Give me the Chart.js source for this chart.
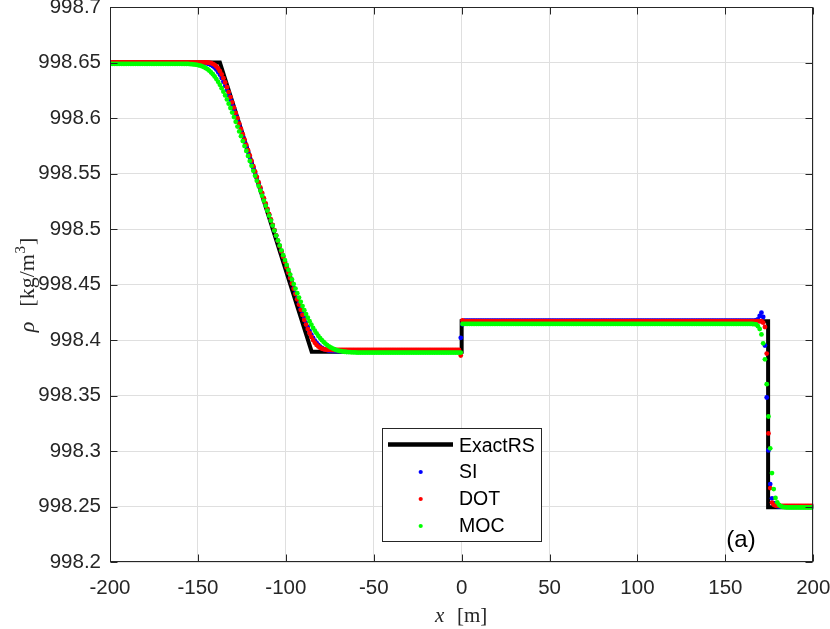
<!DOCTYPE html>
<html>
<head>
<meta charset="utf-8">
<script src="https://cdn.jsdelivr.net/npm/chart.js@4/dist/chart.umd.min.js"></script>
<style>
html,body{margin:0;padding:0;background:#fff;}
canvas{display:block;}
</style>
</head>
<body>
<canvas id="c" width="830" height="629"></canvas>
<script>
// ---------- data ----------
const xTicks = [-200,-150,-100,-50,0,50,100,150,200];
const xTickLabels = ['-200','-150','-100','-50','0','50','100','150','200'];
const yTicks = [998.2,998.25,998.3,998.35,998.4,998.45,998.5,998.55,998.6,998.65,998.7];
const yTickLabels = ['998.2','998.25','998.3','998.35','998.4','998.45','998.5','998.55','998.6','998.65','998.7'];

// exact Riemann solution (piecewise linear)
const exactX = [-200,-137.5,-85.3,0,0,174.3,174.3,200];
const exactY = [998.65,998.65,998.3895,998.3895,998.417,998.417,998.2493,998.2493];

// cell centres of the numerical grid
const xGrid = [
-199.5,-198.5,-197.5,-196.5,-195.5,-194.5,-193.5,-192.5,-191.5,-190.5,
-189.5,-188.5,-187.5,-186.5,-185.5,-184.5,-183.5,-182.5,-181.5,-180.5,
-179.5,-178.5,-177.5,-176.5,-175.5,-174.5,-173.5,-172.5,-171.5,-170.5,
-169.5,-168.5,-167.5,-166.5,-165.5,-164.5,-163.5,-162.5,-161.5,-160.5,
-159.5,-158.5,-157.5,-156.5,-155.5,-154.5,-153.5,-152.5,-151.5,-150.5,
-149.5,-148.5,-147.5,-146.5,-145.5,-144.5,-143.5,-142.5,-141.5,-140.5,
-139.5,-138.5,-137.5,-136.5,-135.5,-134.5,-133.5,-132.5,-131.5,-130.5,
-129.5,-128.5,-127.5,-126.5,-125.5,-124.5,-123.5,-122.5,-121.5,-120.5,
-119.5,-118.5,-117.5,-116.5,-115.5,-114.5,-113.5,-112.5,-111.5,-110.5,
-109.5,-108.5,-107.5,-106.5,-105.5,-104.5,-103.5,-102.5,-101.5,-100.5,
-99.5,-98.5,-97.5,-96.5,-95.5,-94.5,-93.5,-92.5,-91.5,-90.5,
-89.5,-88.5,-87.5,-86.5,-85.5,-84.5,-83.5,-82.5,-81.5,-80.5,
-79.5,-78.5,-77.5,-76.5,-75.5,-74.5,-73.5,-72.5,-71.5,-70.5,
-69.5,-68.5,-67.5,-66.5,-65.5,-64.5,-63.5,-62.5,-61.5,-60.5,
-59.5,-58.5,-57.5,-56.5,-55.5,-54.5,-53.5,-52.5,-51.5,-50.5,
-49.5,-48.5,-47.5,-46.5,-45.5,-44.5,-43.5,-42.5,-41.5,-40.5,
-39.5,-38.5,-37.5,-36.5,-35.5,-34.5,-33.5,-32.5,-31.5,-30.5,
-29.5,-28.5,-27.5,-26.5,-25.5,-24.5,-23.5,-22.5,-21.5,-20.5,
-19.5,-18.5,-17.5,-16.5,-15.5,-14.5,-13.5,-12.5,-11.5,-10.5,
-9.5,-8.5,-7.5,-6.5,-5.5,-4.5,-3.5,-2.5,-1.5,-0.5,
0.5,1.5,2.5,3.5,4.5,5.5,6.5,7.5,8.5,9.5,
10.5,11.5,12.5,13.5,14.5,15.5,16.5,17.5,18.5,19.5,
20.5,21.5,22.5,23.5,24.5,25.5,26.5,27.5,28.5,29.5,
30.5,31.5,32.5,33.5,34.5,35.5,36.5,37.5,38.5,39.5,
40.5,41.5,42.5,43.5,44.5,45.5,46.5,47.5,48.5,49.5,
50.5,51.5,52.5,53.5,54.5,55.5,56.5,57.5,58.5,59.5,
60.5,61.5,62.5,63.5,64.5,65.5,66.5,67.5,68.5,69.5,
70.5,71.5,72.5,73.5,74.5,75.5,76.5,77.5,78.5,79.5,
80.5,81.5,82.5,83.5,84.5,85.5,86.5,87.5,88.5,89.5,
90.5,91.5,92.5,93.5,94.5,95.5,96.5,97.5,98.5,99.5,
100.5,101.5,102.5,103.5,104.5,105.5,106.5,107.5,108.5,109.5,
110.5,111.5,112.5,113.5,114.5,115.5,116.5,117.5,118.5,119.5,
120.5,121.5,122.5,123.5,124.5,125.5,126.5,127.5,128.5,129.5,
130.5,131.5,132.5,133.5,134.5,135.5,136.5,137.5,138.5,139.5,
140.5,141.5,142.5,143.5,144.5,145.5,146.5,147.5,148.5,149.5,
150.5,151.5,152.5,153.5,154.5,155.5,156.5,157.5,158.5,159.5,
160.5,161.5,162.5,163.5,164.5,165.5,166.5,167.5,168.5,169.5,
170.5,171.5,172.5,173.5,174.5,175.5,176.5,177.5,178.5,179.5,
180.5,181.5,182.5,183.5,184.5,185.5,186.5,187.5,188.5,189.5,
190.5,191.5,192.5,193.5,194.5,195.5,196.5,197.5,198.5,199.5
];

const rhoSI = [
998.6500,998.6500,998.6500,998.6500,998.6500,998.6500,998.6500,998.6500,998.6500,998.6500,
998.6500,998.6500,998.6500,998.6500,998.6500,998.6500,998.6500,998.6500,998.6500,998.6500,
998.6500,998.6500,998.6500,998.6500,998.6500,998.6500,998.6500,998.6500,998.6500,998.6500,
998.6500,998.6500,998.6500,998.6500,998.6500,998.6500,998.6500,998.6500,998.6500,998.6500,
998.6500,998.6500,998.6500,998.6500,998.6500,998.6500,998.6500,998.6500,998.6500,998.6500,
998.6499,998.6499,998.6498,998.6497,998.6495,998.6491,998.6486,998.6478,998.6468,998.6454,
998.6437,998.6415,998.6390,998.6360,998.6326,998.6289,998.6249,998.6207,998.6164,998.6119,
998.6073,998.6026,998.5980,998.5933,998.5885,998.5838,998.5791,998.5744,998.5696,998.5649,
998.5602,998.5555,998.5507,998.5460,998.5413,998.5366,998.5318,998.5271,998.5224,998.5176,
998.5129,998.5082,998.5035,998.4987,998.4940,998.4893,998.4846,998.4798,998.4751,998.4704,
998.4657,998.4609,998.4562,998.4515,998.4468,998.4421,998.4375,998.4329,998.4284,998.4240,
998.4197,998.4156,998.4118,998.4082,998.4049,998.4020,998.3994,998.3973,998.3955,998.3940,
998.3928,998.3920,998.3913,998.3909,998.3905,998.3903,998.3902,998.3901,998.3901,998.3900,
998.3900,998.3900,998.3900,998.3900,998.3900,998.3900,998.3900,998.3900,998.3900,998.3900,
998.3900,998.3900,998.3900,998.3900,998.3900,998.3900,998.3900,998.3900,998.3900,998.3900,
998.3900,998.3900,998.3900,998.3900,998.3900,998.3900,998.3900,998.3900,998.3900,998.3900,
998.3900,998.3900,998.3900,998.3900,998.3900,998.3900,998.3900,998.3900,998.3900,998.3900,
998.3900,998.3900,998.3900,998.3900,998.3900,998.3900,998.3900,998.3900,998.3900,998.3900,
998.3900,998.3900,998.3900,998.3900,998.3900,998.3900,998.3900,998.3900,998.3900,998.3900,
998.3900,998.3900,998.3900,998.3900,998.3900,998.3900,998.3900,998.3900,998.3900,998.4020,
998.4142,998.4175,998.4175,998.4175,998.4175,998.4175,998.4175,998.4175,998.4175,998.4175,
998.4175,998.4175,998.4175,998.4175,998.4175,998.4175,998.4175,998.4175,998.4175,998.4175,
998.4175,998.4175,998.4175,998.4175,998.4175,998.4175,998.4175,998.4175,998.4175,998.4175,
998.4175,998.4175,998.4175,998.4175,998.4175,998.4175,998.4175,998.4175,998.4175,998.4175,
998.4175,998.4175,998.4175,998.4175,998.4175,998.4175,998.4175,998.4175,998.4175,998.4175,
998.4175,998.4175,998.4175,998.4175,998.4175,998.4175,998.4175,998.4175,998.4175,998.4175,
998.4175,998.4175,998.4175,998.4175,998.4175,998.4175,998.4175,998.4175,998.4175,998.4175,
998.4175,998.4175,998.4175,998.4175,998.4175,998.4175,998.4175,998.4175,998.4175,998.4175,
998.4175,998.4175,998.4175,998.4175,998.4175,998.4175,998.4175,998.4175,998.4175,998.4175,
998.4175,998.4175,998.4175,998.4175,998.4175,998.4175,998.4175,998.4175,998.4175,998.4175,
998.4175,998.4175,998.4175,998.4175,998.4175,998.4175,998.4175,998.4175,998.4175,998.4175,
998.4175,998.4175,998.4175,998.4175,998.4175,998.4175,998.4175,998.4175,998.4175,998.4175,
998.4175,998.4175,998.4175,998.4175,998.4175,998.4175,998.4175,998.4175,998.4175,998.4175,
998.4175,998.4175,998.4175,998.4175,998.4175,998.4175,998.4175,998.4175,998.4175,998.4175,
998.4175,998.4175,998.4175,998.4175,998.4175,998.4175,998.4175,998.4175,998.4175,998.4175,
998.4175,998.4175,998.4175,998.4175,998.4175,998.4175,998.4175,998.4175,998.4175,998.4175,
998.4175,998.4175,998.4175,998.4175,998.4175,998.4175,998.4175,998.4178,998.4186,998.4216,
998.4246,998.4207,998.3950,998.3482,998.3005,998.2702,998.2574,998.2530,998.2512,998.2503,
998.2500,998.2500,998.2500,998.2500,998.2500,998.2500,998.2500,998.2500,998.2500,998.2500,
998.2500,998.2500,998.2500,998.2500,998.2500,998.2500,998.2500,998.2500,998.2500,998.2500
];

const rhoDOT = [
998.6502,998.6502,998.6502,998.6502,998.6502,998.6502,998.6502,998.6502,998.6502,998.6502,
998.6502,998.6502,998.6502,998.6502,998.6502,998.6502,998.6502,998.6502,998.6502,998.6502,
998.6502,998.6502,998.6502,998.6502,998.6502,998.6502,998.6502,998.6502,998.6502,998.6502,
998.6502,998.6502,998.6502,998.6502,998.6502,998.6502,998.6502,998.6502,998.6502,998.6502,
998.6502,998.6502,998.6502,998.6502,998.6502,998.6502,998.6502,998.6502,998.6502,998.6502,
998.6502,998.6502,998.6502,998.6502,998.6501,998.6500,998.6498,998.6494,998.6488,998.6479,
998.6465,998.6446,998.6422,998.6393,998.6359,998.6320,998.6278,998.6234,998.6188,998.6141,
998.6094,998.6046,998.5998,998.5950,998.5902,998.5854,998.5806,998.5758,998.5710,998.5662,
998.5614,998.5566,998.5518,998.5470,998.5422,998.5374,998.5326,998.5278,998.5230,998.5182,
998.5134,998.5086,998.5038,998.4990,998.4942,998.4894,998.4846,998.4798,998.4750,998.4702,
998.4654,998.4606,998.4558,998.4510,998.4462,998.4414,998.4366,998.4319,998.4272,998.4226,
998.4181,998.4139,998.4098,998.4061,998.4028,998.3999,998.3975,998.3956,998.3941,998.3930,
998.3923,998.3917,998.3914,998.3912,998.3911,998.3911,998.3910,998.3910,998.3910,998.3910,
998.3910,998.3910,998.3910,998.3910,998.3910,998.3910,998.3910,998.3910,998.3910,998.3910,
998.3910,998.3910,998.3910,998.3910,998.3910,998.3910,998.3910,998.3910,998.3910,998.3910,
998.3910,998.3910,998.3910,998.3910,998.3910,998.3910,998.3910,998.3910,998.3910,998.3910,
998.3910,998.3910,998.3910,998.3910,998.3910,998.3910,998.3910,998.3910,998.3910,998.3910,
998.3910,998.3910,998.3910,998.3910,998.3910,998.3910,998.3910,998.3910,998.3910,998.3910,
998.3910,998.3910,998.3910,998.3910,998.3910,998.3910,998.3910,998.3910,998.3910,998.3910,
998.3910,998.3910,998.3910,998.3910,998.3910,998.3910,998.3910,998.3910,998.3910,998.3860,
998.4176,998.4170,998.4170,998.4170,998.4170,998.4170,998.4170,998.4170,998.4170,998.4170,
998.4170,998.4170,998.4170,998.4170,998.4170,998.4170,998.4170,998.4170,998.4170,998.4170,
998.4170,998.4170,998.4170,998.4170,998.4170,998.4170,998.4170,998.4170,998.4170,998.4170,
998.4170,998.4170,998.4170,998.4170,998.4170,998.4170,998.4170,998.4170,998.4170,998.4170,
998.4170,998.4170,998.4170,998.4170,998.4170,998.4170,998.4170,998.4170,998.4170,998.4170,
998.4170,998.4170,998.4170,998.4170,998.4170,998.4170,998.4170,998.4170,998.4170,998.4170,
998.4170,998.4170,998.4170,998.4170,998.4170,998.4170,998.4170,998.4170,998.4170,998.4170,
998.4170,998.4170,998.4170,998.4170,998.4170,998.4170,998.4170,998.4170,998.4170,998.4170,
998.4170,998.4170,998.4170,998.4170,998.4170,998.4170,998.4170,998.4170,998.4170,998.4170,
998.4170,998.4170,998.4170,998.4170,998.4170,998.4170,998.4170,998.4170,998.4170,998.4170,
998.4170,998.4170,998.4170,998.4170,998.4170,998.4170,998.4170,998.4170,998.4170,998.4170,
998.4170,998.4170,998.4170,998.4170,998.4170,998.4170,998.4170,998.4170,998.4170,998.4170,
998.4170,998.4170,998.4170,998.4170,998.4170,998.4170,998.4170,998.4170,998.4170,998.4170,
998.4170,998.4170,998.4170,998.4170,998.4170,998.4170,998.4170,998.4170,998.4170,998.4170,
998.4170,998.4170,998.4170,998.4170,998.4170,998.4170,998.4170,998.4170,998.4170,998.4170,
998.4170,998.4170,998.4170,998.4170,998.4170,998.4170,998.4170,998.4170,998.4170,998.4170,
998.4170,998.4170,998.4170,998.4170,998.4170,998.4170,998.4170,998.4170,998.4170,998.4170,
998.4169,998.4156,998.4117,998.3878,998.3158,998.2666,998.2535,998.2515,998.2509,998.2507,
998.2506,998.2506,998.2506,998.2506,998.2506,998.2506,998.2506,998.2506,998.2506,998.2506,
998.2506,998.2506,998.2506,998.2506,998.2506,998.2506,998.2506,998.2506,998.2506,998.2506
];

const rhoMOC = [
998.6488,998.6488,998.6488,998.6488,998.6488,998.6488,998.6488,998.6488,998.6488,998.6488,
998.6488,998.6488,998.6488,998.6488,998.6488,998.6488,998.6488,998.6488,998.6488,998.6488,
998.6488,998.6488,998.6488,998.6488,998.6488,998.6488,998.6488,998.6488,998.6488,998.6488,
998.6488,998.6488,998.6488,998.6488,998.6488,998.6488,998.6488,998.6488,998.6488,998.6488,
998.6488,998.6488,998.6487,998.6487,998.6487,998.6486,998.6485,998.6483,998.6481,998.6479,
998.6475,998.6471,998.6465,998.6458,998.6449,998.6439,998.6426,998.6411,998.6394,998.6374,
998.6351,998.6326,998.6299,998.6269,998.6237,998.6203,998.6167,998.6129,998.6090,998.6049,
998.6008,998.5966,998.5923,998.5879,998.5836,998.5792,998.5747,998.5703,998.5658,998.5613,
998.5569,998.5524,998.5479,998.5434,998.5389,998.5345,998.5300,998.5255,998.5210,998.5165,
998.5120,998.5075,998.5031,998.4986,998.4941,998.4897,998.4852,998.4808,998.4764,998.4720,
998.4676,998.4632,998.4589,998.4546,998.4504,998.4463,998.4422,998.4382,998.4344,998.4306,
998.4269,998.4234,998.4201,998.4169,998.4139,998.4110,998.4084,998.4060,998.4037,998.4017,
998.3998,998.3982,998.3967,998.3954,998.3943,998.3933,998.3925,998.3917,998.3911,998.3906,
998.3902,998.3899,998.3896,998.3894,998.3892,998.3891,998.3890,998.3889,998.3889,998.3888,
998.3887,998.3887,998.3887,998.3887,998.3887,998.3887,998.3887,998.3887,998.3887,998.3887,
998.3887,998.3887,998.3887,998.3887,998.3887,998.3887,998.3887,998.3887,998.3887,998.3887,
998.3887,998.3887,998.3887,998.3887,998.3887,998.3887,998.3887,998.3887,998.3887,998.3887,
998.3887,998.3887,998.3887,998.3887,998.3887,998.3887,998.3887,998.3887,998.3887,998.3887,
998.3887,998.3887,998.3887,998.3887,998.3887,998.3887,998.3887,998.3887,998.3887,998.3887,
998.3887,998.3887,998.3887,998.3887,998.3887,998.3887,998.3887,998.3887,998.3887,998.3887,
998.4145,998.4145,998.4145,998.4145,998.4145,998.4145,998.4145,998.4145,998.4145,998.4145,
998.4145,998.4145,998.4145,998.4145,998.4145,998.4145,998.4145,998.4145,998.4145,998.4145,
998.4145,998.4145,998.4145,998.4145,998.4145,998.4145,998.4145,998.4145,998.4145,998.4145,
998.4145,998.4145,998.4145,998.4145,998.4145,998.4145,998.4145,998.4145,998.4145,998.4145,
998.4145,998.4145,998.4145,998.4145,998.4145,998.4145,998.4145,998.4145,998.4145,998.4145,
998.4145,998.4145,998.4145,998.4145,998.4145,998.4145,998.4145,998.4145,998.4145,998.4145,
998.4145,998.4145,998.4145,998.4145,998.4145,998.4145,998.4145,998.4145,998.4145,998.4145,
998.4145,998.4145,998.4145,998.4145,998.4145,998.4145,998.4145,998.4145,998.4145,998.4145,
998.4145,998.4145,998.4145,998.4145,998.4145,998.4145,998.4145,998.4145,998.4145,998.4145,
998.4145,998.4145,998.4145,998.4145,998.4145,998.4145,998.4145,998.4145,998.4145,998.4145,
998.4145,998.4145,998.4145,998.4145,998.4145,998.4145,998.4145,998.4145,998.4145,998.4145,
998.4145,998.4145,998.4145,998.4145,998.4145,998.4145,998.4145,998.4145,998.4145,998.4145,
998.4145,998.4145,998.4145,998.4145,998.4145,998.4145,998.4145,998.4145,998.4145,998.4145,
998.4145,998.4145,998.4145,998.4145,998.4145,998.4145,998.4145,998.4145,998.4145,998.4145,
998.4145,998.4145,998.4145,998.4145,998.4145,998.4145,998.4145,998.4145,998.4145,998.4145,
998.4145,998.4145,998.4145,998.4145,998.4145,998.4145,998.4145,998.4145,998.4145,998.4145,
998.4145,998.4145,998.4145,998.4145,998.4145,998.4144,998.4143,998.4141,998.4125,998.4098,
998.4050,998.3970,998.3826,998.3602,998.3311,998.3024,998.2801,998.2657,998.2577,998.2538,
998.2515,998.2503,998.2497,998.2494,998.2493,998.2492,998.2492,998.2492,998.2492,998.2492,
998.2492,998.2492,998.2492,998.2492,998.2492,998.2492,998.2492,998.2492,998.2492,998.2492
];

const seriesNames = ['ExactRS','SI','DOT','MOC'];
const seriesColors = ['#000000','#0000ff','#ff0000','#00ff00'];

// ---------- build chart ----------
const pts = (xs, ys) => xs.map((v, i) => ({x: v, y: ys[i]}));

const TICK_FONT = {family: '"Liberation Sans", Arial, sans-serif', size: 20.5};
const AXIS_COLOR = '#262626';

const overlay = {
  id: 'overlay',
  afterDraw(chart) {
    const ctx = chart.ctx;
    const a = chart.chartArea;
    const sx = chart.scales.x, sy = chart.scales.y;
    ctx.save();
    ctx.strokeStyle = AXIS_COLOR;
    ctx.lineWidth = 1;
    const L = Math.round(a.left) + 0.5, R = Math.round(a.right) - 0.5;
    const T = Math.round(a.top) + 0.5, B = Math.round(a.bottom) - 0.5;
    ctx.beginPath();
    xTicks.forEach(v => {
      const p = Math.round(sx.getPixelForValue(v)) + 0.5;
      ctx.moveTo(p, B); ctx.lineTo(p, B - 7);
      ctx.moveTo(p, T); ctx.lineTo(p, T + 7);
    });
    yTicks.forEach(v => {
      const p = Math.round(sy.getPixelForValue(v)) + 0.5;
      ctx.moveTo(L, p); ctx.lineTo(L + 7, p);
      ctx.moveTo(R, p); ctx.lineTo(R - 7, p);
    });
    ctx.stroke();
    ctx.strokeRect(L, T, R - L, B - T);

    // legend
    const lx = 382.5, ly = 428.5, lw = 159, lh = 113;
    ctx.fillStyle = '#ffffff';
    ctx.fillRect(lx, ly, lw, lh);
    ctx.strokeStyle = AXIS_COLOR;
    ctx.strokeRect(lx, ly, lw, lh);
    ctx.strokeStyle = '#000';
    ctx.lineWidth = 4.5;
    ctx.beginPath(); ctx.moveTo(388, 444.5); ctx.lineTo(453, 444.5); ctx.stroke();
    const rowY = [445.5, 472, 499, 526];
    ctx.font = '19.5px "Liberation Sans", Arial, sans-serif';
    ctx.textBaseline = 'middle';
    ctx.textAlign = 'left';
    for (let i = 0; i < 4; i++) {
      if (i > 0) {
        ctx.fillStyle = seriesColors[i];
        ctx.beginPath(); ctx.arc(420.7, rowY[i], 2.1, 0, Math.PI * 2); ctx.fill();
      }
      ctx.fillStyle = '#000';
      ctx.fillText(seriesNames[i], 459, rowY[i] + 1);
    }

    // panel label
    ctx.font = '24px "Liberation Sans", Arial, sans-serif';
    ctx.textAlign = 'center';
    ctx.fillStyle = '#000';
    ctx.fillText('(a)', 741, 540);

    // axis titles (LaTeX-like)
    ctx.fillStyle = AXIS_COLOR;
    ctx.textBaseline = 'alphabetic';
    ctx.textAlign = 'left';
    const serif = '"Liberation Serif", "DejaVu Serif", serif';
    ctx.font = 'italic 21px ' + serif;
    ctx.fillText('x', 435, 622);
    ctx.font = '21px ' + serif;
    ctx.fillText('[m]', 457, 622);

    // y title, rotated
    const parts = [
      {t: 'ρ', f: 'italic 22px ' + serif, dy: 0, gap: 15},
      {t: '[kg/m', f: '22px ' + serif, dy: 0, gap: 0.5},
      {t: '3', f: '15px ' + serif, dy: -9, gap: 1},
      {t: ']', f: '22px ' + serif, dy: 0, gap: 0}
    ];
    let total = 0;
    parts.forEach(p => { ctx.font = p.f; p.w = ctx.measureText(p.t).width; total += p.w + p.gap; });
    ctx.save();
    ctx.translate(34, 285 + total / 2);
    ctx.rotate(-Math.PI / 2);
    let cx = 0;
    parts.forEach(p => { ctx.font = p.f; ctx.fillText(p.t, cx, p.dy); cx += p.w + p.gap; });
    ctx.restore();
    ctx.restore();
  }
};

new Chart(document.getElementById('c'), {
  type: 'scatter',
  data: {
    datasets: [
      {label: seriesNames[0], data: pts(exactX, exactY), showLine: true, borderColor: seriesColors[0],
       borderWidth: 4, pointRadius: 0, pointHoverRadius: 0, order: 3, tension: 0},
      {label: seriesNames[1], data: pts(xGrid, rhoSI), showLine: false, pointRadius: 2.4, pointHoverRadius: 0,
       pointBorderWidth: 0, pointBackgroundColor: seriesColors[1], backgroundColor: seriesColors[1], order: 2},
      {label: seriesNames[2], data: pts(xGrid, rhoDOT), showLine: false, pointRadius: 2.4, pointHoverRadius: 0,
       pointBorderWidth: 0, pointBackgroundColor: seriesColors[2], backgroundColor: seriesColors[2], order: 1},
      {label: seriesNames[3], data: pts(xGrid, rhoMOC), showLine: false, pointRadius: 2.4, pointHoverRadius: 0,
       pointBorderWidth: 0, pointBackgroundColor: seriesColors[3], backgroundColor: seriesColors[3], order: 0}
    ]
  },
  options: {
    responsive: false,
    animation: false,
    events: [],
    devicePixelRatio: 1,
    layout: {padding: {top: 7, right: 16.7, left: 0, bottom: 0}},
    plugins: {legend: {display: false}, tooltip: {enabled: false}},
    scales: {
      x: {
        type: 'linear', min: -200, max: 200,
        afterBuildTicks: s => { s.ticks = xTicks.map(v => ({value: v})); },
        afterFit: s => { s.height = 67; s.paddingLeft = 0; s.paddingRight = 0; },
        ticks: {callback: (v, i) => xTickLabels[i], font: TICK_FONT, color: AXIS_COLOR,
                padding: 14, maxRotation: 0, minRotation: 0, autoSkip: false},
        grid: {color: '#dfdfdf', drawTicks: false, lineWidth: 1},
        border: {display: false}
      },
      y: {
        type: 'linear', min: 998.2, max: 998.7,
        afterBuildTicks: s => { s.ticks = yTicks.map(v => ({value: v})); },
        afterFit: s => { s.width = 110; s.paddingTop = 0; s.paddingBottom = 0; },
        ticks: {callback: (v, i) => yTickLabels[i], font: TICK_FONT, color: AXIS_COLOR,
                padding: 9, autoSkip: false},
        grid: {color: '#dfdfdf', drawTicks: false, lineWidth: 1},
        border: {display: false}
      }
    }
  },
  plugins: [overlay]
});
</script>
</body>
</html>
